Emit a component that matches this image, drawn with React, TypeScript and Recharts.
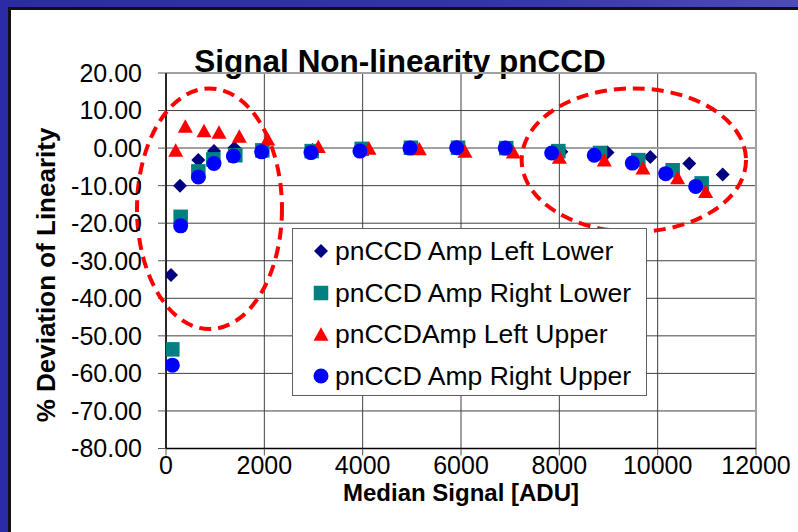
import React from "react";
import {
  ScatterChart,
  Scatter,
  XAxis,
  YAxis,
  CartesianGrid,
  ReferenceLine,
  ReferenceArea,
  Legend,
} from "recharts";

// ---- data ----
const leftLowerX = [102, 285, 657, 976, 1390, 1960, 2980, 3980, 4990, 5960, 6950, 8040, 8980, 9850, 10643, 11322];
const leftLowerY = [-33.8, -10.0, -3.2, -0.8, 0.0, -0.5, -0.5, -0.2, 0.1, 0.1, 0.0, -1.0, -1.2, -2.4, -4.1, -7.0];

const rightLowerX = [129, 298, 658, 963, 1410, 1959, 2963, 3980, 4980, 5940, 6920, 7980, 8827, 9606, 10305, 10895];
const rightLowerY = [-53.6, -18.3, -6.2, -3.0, -1.9, -0.6, -0.8, -0.2, 0.1, 0.1, 0.0, -0.8, -1.3, -3.2, -5.9, -9.4];

const leftUpperX = [197, 393, 773, 1078, 1491, 2068, 3098, 4128, 5152, 6081, 7064, 8000, 8914, 9700, 10406, 10976];
const leftUpperY = [-0.5, 5.9, 4.7, 4.3, 3.2, 2.5, 0.5, 0.0, -0.1, -0.8, -1.0, -2.4, -3.1, -5.2, -7.8, -11.5];

const rightUpperX = [129, 298, 658, 976, 1370, 1945, 2949, 3945, 4962, 5912, 6900, 7844, 8710, 9484, 10163, 10773];
const rightUpperY = [-57.8, -20.7, -7.7, -4.1, -2.1, -1.0, -1.2, -0.8, 0.0, 0.1, 0.0, -1.3, -1.9, -4.0, -6.8, -10.2];

const xTicks = [0, 2000, 4000, 6000, 8000, 10000, 12000];
const yTicks = [20, 10, 0, -10, -20, -30, -40, -50, -60, -70, -80];

const seriesNames = [
  "pnCCD Amp Left Lower",
  "pnCCD Amp Right Lower",
  "pnCCDAmp Left Upper",
  "pnCCD Amp Right Upper",
];

// annotation ellipses (data-space bounds)
const highlightX1 = [-590, 7234];
const highlightX2 = [2359, 11797];
const highlightY1 = [-48.2, -22.3];
const highlightY2 = [15.9, 15.9];

const toPoints = (xs: number[], ys: number[]) => xs.map((x, i) => ({ x, y: ys[i] }));

const FONT = "'Liberation Sans', Arial, sans-serif";

// ---- marker shapes ----
const Diamond = ({ cx, cy, r = 7 }: any) => (
  <polygon
    points={`${cx},${cy - r} ${cx + r},${cy} ${cx},${cy + r} ${cx - r},${cy}`}
    fill="#000080"
  />
);
const Square = ({ cx, cy, s = 14.5 }: any) => (
  <rect x={cx - s / 2} y={cy - s / 2} width={s} height={s} fill="#008080" />
);
const Triangle = ({ cx, cy, w = 15, h = 13.5 }: any) => (
  <polygon
    points={`${cx},${cy - h / 2} ${cx + w / 2},${cy + h / 2} ${cx - w / 2},${cy + h / 2}`}
    fill="#FF0000"
  />
);
const Circle = ({ cx, cy, r = 7.5 }: any) => <circle cx={cx} cy={cy} r={r} fill="#0000FF" />;

const markers = [Diamond, Square, Triangle, Circle];

const seriesData = [
  toPoints(leftLowerX, leftLowerY),
  toPoints(rightLowerX, rightLowerY),
  toPoints(leftUpperX, leftUpperY),
  toPoints(rightUpperX, rightUpperY),
];

const LegendBox = () => (
  <div
    style={{
      width: 355,
      height: 168,
      boxSizing: "border-box",
      background: "#fff",
      border: "1.5px solid #606060",
      position: "relative",
    }}
  >
    {seriesNames.map((name, i) => {
      const M = markers[i];
      const cy = 22 + i * 41.7;
      return (
        <div key={name} style={{ position: "absolute", left: 0, top: cy - 20, height: 40, width: 355 }}>
          <svg width={40} height={40} style={{ position: "absolute", left: 8, top: 0 }}>
            <M cx={20} cy={20} />
          </svg>
          <span
            style={{
              position: "absolute",
              left: 42,
              top: 20,
              transform: "translateY(-50%)",
              fontFamily: FONT,
              fontSize: 26.5,
              lineHeight: "30px",
              whiteSpace: "nowrap",
              color: "#000",
            }}
          >
            {name}
          </span>
        </div>
      );
    })}
  </div>
);

const EllipseShape = (p: any) => {
  const { x, y, width, height } = p;
  return (
    <ellipse
      cx={x + width / 2}
      cy={y + height / 2}
      rx={Math.abs(width) / 2}
      ry={Math.abs(height) / 2}
      fill="none"
      stroke="#FF0000"
      strokeWidth={4}
      strokeDasharray="12 7"
    />
  );
};

export default function App() {
  return (
    <div
      style={{
        position: "absolute",
        left: 0,
        top: 0,
        width: 798,
        height: 532,
        overflow: "hidden",
        background: "linear-gradient(to right, #2b2ba6 0%, #3333ab 60%, #4c4cba 100%)",
      }}
    >
      <div
        style={{
          position: "absolute",
          left: 8,
          top: 7,
          width: 820,
          height: 560,
          background: "#fff",
          borderLeft: "3px solid #111",
          borderTop: "3px solid #111",
        }}
      />
      <svg width={798} height={532} style={{ position: "absolute", left: 0, top: 0 }}>
        <text x={400} y={71.5} textAnchor="middle" fontFamily={FONT} fontWeight="bold" fontSize={31.5} fill="#000">
          Signal Non-linearity pnCCD
        </text>
        <text
          x={0}
          y={0}
          transform="translate(55,275) rotate(-90)"
          textAnchor="middle"
          fontFamily={FONT}
          fontWeight="bold"
          fontSize={26}
          fill="#000"
        >
          % Deviation of Linearity
        </text>
        <text x={461} y={501} textAnchor="middle" fontFamily={FONT} fontWeight="bold" fontSize={24} fill="#000">
          Median Signal [ADU]
        </text>
      </svg>
      <div style={{ position: "absolute", left: 0, top: 0 }}>
        <ScatterChart width={798} height={532} margin={{ top: 73, right: 42, bottom: 0, left: 0 }}>
          <CartesianGrid stroke="#404040" strokeWidth={1} fill="#ffffff" fillOpacity={0} />
          <XAxis
            type="number"
            dataKey="x"
            domain={[0, 12000]}
            ticks={xTicks}
            allowDataOverflow
            height={83.5}
            tickSize={7}
            tickMargin={1}
            axisLine={{ stroke: "#000", strokeWidth: 1.5 }}
            tickLine={{ stroke: "#555" }}
            tick={{ fill: "#000", fontSize: 25, fontFamily: FONT }}
          />
          <YAxis
            type="number"
            dataKey="y"
            domain={[-80, 20]}
            ticks={yTicks}
            allowDataOverflow
            width={166}
            tickSize={8}
            tickMargin={16}
            axisLine={{ stroke: "#000", strokeWidth: 1.5 }}
            tickLine={{ stroke: "#555" }}
            tick={{ fill: "#000", fontSize: 25, fontFamily: FONT }}
            tickFormatter={(v: number) => v.toFixed(2)}
          />
          <ReferenceLine y={0} stroke="#a0a0a0" strokeWidth={2} />
          <ReferenceLine y={20} stroke="#a0a0a0" strokeWidth={2} />
          <ReferenceLine x={12000} stroke="#a0a0a0" strokeWidth={2} />
          {seriesData.map((d, i) => {
            const M = markers[i];
            return (
              <Scatter
                key={seriesNames[i]}
                name={seriesNames[i]}
                data={d}
                isAnimationActive={false}
                shape={(p: any) => <M cx={p.cx} cy={p.cy} />}
              />
            );
          })}
          {highlightX1.map((x1, i) => (
            <ReferenceArea
              key={"e" + i}
              x1={x1}
              x2={highlightX2[i]}
              y1={highlightY1[i]}
              y2={highlightY2[i]}
              ifOverflow="visible"
              shape={EllipseShape}
              zIndex={700}
            />
          ))}
          <Legend
            layout="vertical"
            align="center"
            verticalAlign="middle"
            content={() => <LegendBox />}
            wrapperStyle={{ position: "absolute", left: 292, top: 228, width: 355, height: 168 }}
          />
        </ScatterChart>
      </div>
    </div>
  );
}
